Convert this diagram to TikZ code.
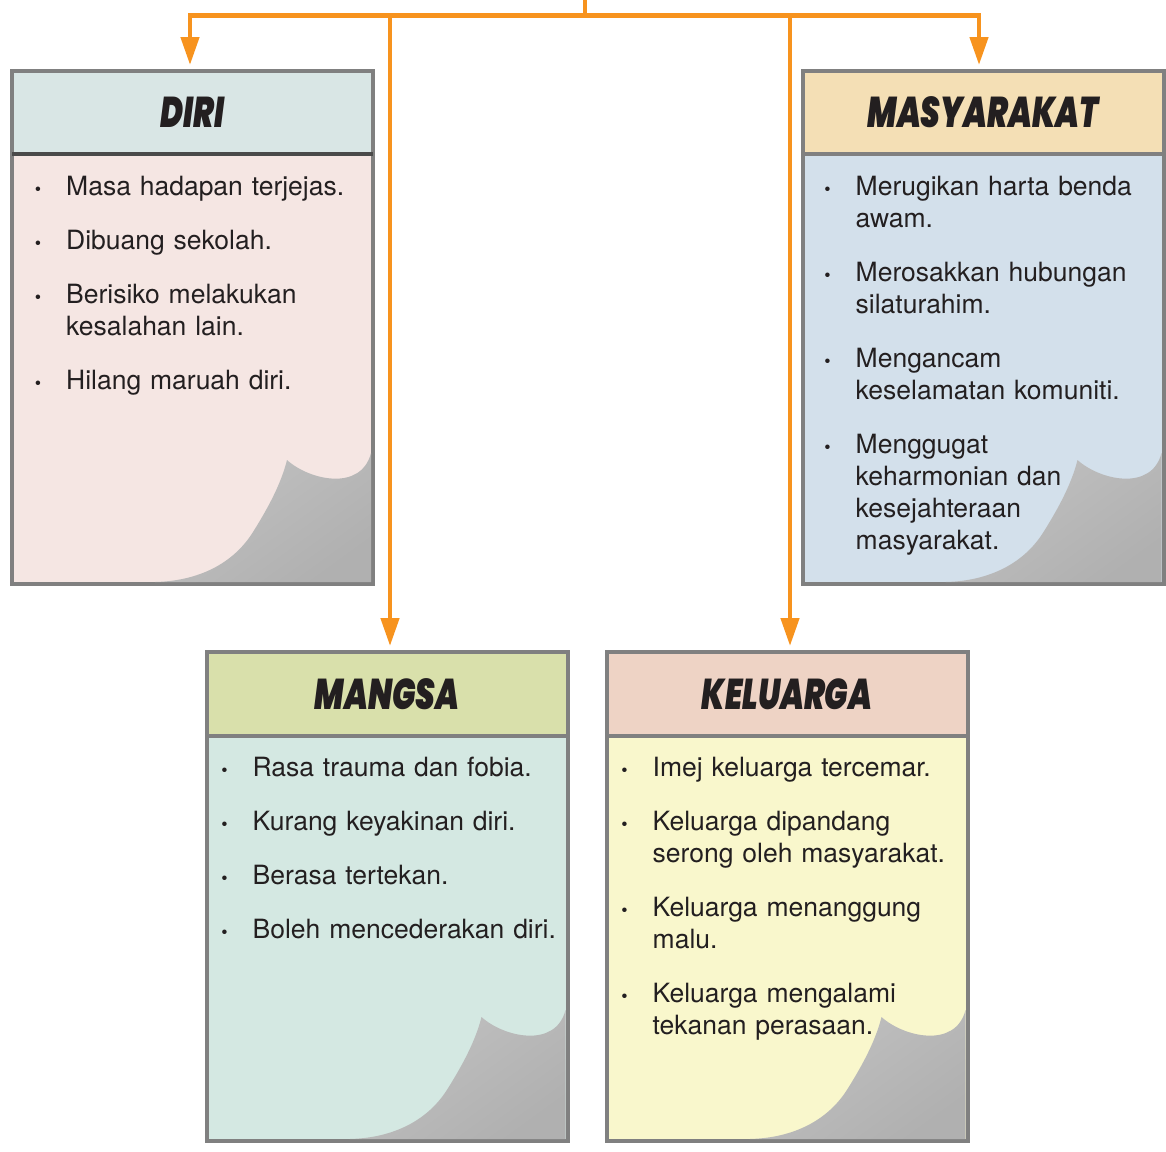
\documentclass[tikz,border=0pt]{standalone}
\usepackage{fontspec}
\setmainfont{TeX Gyre Heros}
\newfontfamily\headfont{Poppins}[BoldItalicFont=* Black Italic]
\usepackage{graphicx}
\usepackage{enumitem}
\usepackage{tikz}
\usetikzlibrary{arrows.meta,positioning,calc}

\definecolor{flowline}{HTML}{F7931E}
\definecolor{cardedge}{HTML}{808080}
\definecolor{cardedgedark}{HTML}{4A4A4A}
\definecolor{inkblack}{HTML}{231F20}
\definecolor{diriHead}{HTML}{D9E6E5}
\definecolor{diriBody}{HTML}{F5E6E3}
\definecolor{masyHead}{HTML}{F4DFB5}
\definecolor{masyBody}{HTML}{D3E0EB}
\definecolor{mangHead}{HTML}{D9E0AB}
\definecolor{mangBody}{HTML}{D4E8E2}
\definecolor{kelHead}{HTML}{EED3C5}
\definecolor{kelBody}{HTML}{F9F7CC}

\newcommand{\cardtitle}[1]{\scalebox{0.72}[1]{#1}}
\newcommand{\pagecurl}[1]{%
  \begin{scope}[shift={(#1.south east)}]
    \shade[curlshade] (-218,2) .. controls (-175,3) and (-140,20) .. (-120,52)
      .. controls (-105,76) and (-92,100) .. (-86,124)
      .. controls (-64,104) and (-12,92) .. (-2,131) -- (-2,2) -- cycle;
  \end{scope}}
\newenvironment{cardlist}{\begin{itemize}[leftmargin=30pt, labelsep=25pt,
    label={\fontsize{18}{18}\selectfont\textbullet}, itemsep=22pt, parsep=0pt,
    topsep=0pt, partopsep=0pt]}{\end{itemize}}

\begin{document}
\begin{tikzpicture}[x=1pt, y=1pt,
    head/.style={draw=cardedge, line width=4pt, rectangle, minimum width=361pt, minimum height=83pt,
      inner sep=0pt, outer sep=0pt, text=inkblack, font=\headfont\bfseries\itshape\fontsize{43}{43}\selectfont},
    panel/.style={draw=cardedge, line width=4pt, rectangle, minimum width=361pt, inner sep=0pt, outer sep=0pt},
    points/.style={inner sep=0pt, text width=340pt, text=inkblack, font=\fontsize{26.5}{32}\selectfont},
    curlshade/.style={shading=axis, top color=gray!48, middle color=gray!18, bottom color=gray!62, shading angle=36},
    flow/.style={draw=flowline, line width=4.5pt, -{Triangle[length=28pt, width=18pt]}, shorten >=6pt}]

    \useasboundingbox (0,0) rectangle (1166,-1151);

    % Cards
    \node[head, fill=diriHead] (diri) at (192.5,-112.5) {\cardtitle{DIRI}};
    \node[panel, fill=diriBody, minimum height=430pt, below=0pt of diri] (diriB) {};
    \draw[cardedgedark, line width=4pt] (diri.south west) -- (diri.south east);

    \node[head, fill=masyHead] (masy) at (983,-112.5) {\cardtitle{MASYARAKAT}};
    \node[panel, fill=masyBody, minimum height=430pt, below=0pt of masy] (masyB) {};

    \node[head, fill=mangHead, minimum height=84pt] (mangsa) at (387,-694) {\cardtitle{MANGSA}};
    \node[panel, fill=mangBody, minimum height=405pt, below=0pt of mangsa] (mangsaB) {};

    \node[head, fill=kelHead, minimum height=84pt] (kel) at (787,-694) {\cardtitle{KELUARGA}};
    \node[panel, fill=kelBody, minimum height=405pt, below=0pt of kel] (kelB) {};

    % Curled corners
    \pagecurl{diriB}
    \pagecurl{masyB}
    \pagecurl{mangsaB}
    \pagecurl{kelB}

    % Points
    \node[points, below right=9.5pt and 24pt of diri.south west] (diriT) {\begin{cardlist}
      \item Masa hadapan terjejas.
      \item Dibuang sekolah.
      \item Berisiko melakukan\\kesalahan lain.
      \item Hilang maruah diri.
    \end{cardlist}};
    \node[points, below right=9.5pt and 23pt of masy.south west] (masyT) {\begin{cardlist}
      \item Merugikan harta benda\\awam.
      \item Merosakkan hubungan\\silaturahim.
      \item Mengancam\\keselamatan komuniti.
      \item Menggugat\\keharmonian dan\\kesejahteraan\\masyarakat.
    \end{cardlist}};
    \node[points, below right=8.5pt and 16pt of mangsa.south west] (mangsaT) {\begin{cardlist}
      \item Rasa trauma dan fobia.
      \item Kurang keyakinan diri.
      \item Berasa tertekan.
      \item Boleh mencederakan diri.
    \end{cardlist}};
    \node[points, below right=8.5pt and 16pt of kel.south west] (kelT) {\begin{cardlist}
      \item Imej keluarga tercemar.
      \item Keluarga dipandang\\serong oleh masyarakat.
      \item Keluarga menanggung\\malu.
      \item Keluarga mengalami\\tekanan perasaan.
    \end{cardlist}};

    % Connections
    \coordinate (top) at (585,0);
    \coordinate (split) at (585,-15.5);
    \draw[flowline, line width=4.5pt] (top) -- (split);
    \draw[flow] (split) -| ([xshift=-2.5pt]diri.north);
    \draw[flow] (split) -| ([xshift=-4pt]masy.north);
    \draw[flow] (split) -| ([xshift=3pt]mangsa.north);
    \draw[flow] (split) -| ([xshift=3pt]kel.north);

\end{tikzpicture}
\end{document}
